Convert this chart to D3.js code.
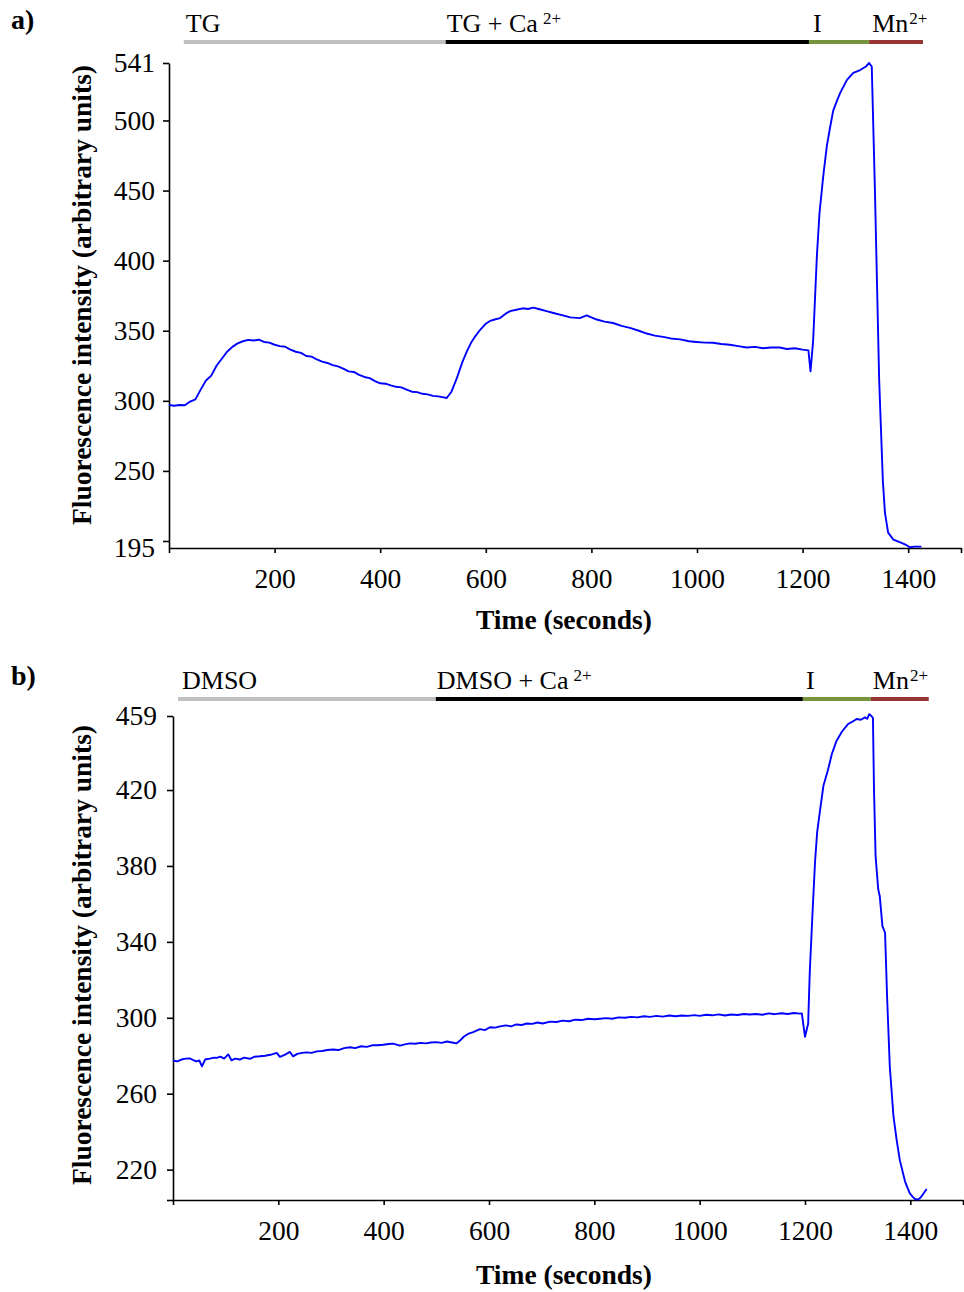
<!DOCTYPE html>
<html>
<head>
<meta charset="utf-8">
<script src="https://cdn.jsdelivr.net/npm/d3@7"></script>
<style>
body { margin:0; background:#fff; }
svg { display:block; font-family:"Liberation Serif","Times New Roman",serif; }
.tick text { font-size:27.5px; fill:#000; font-family:"Liberation Serif","Times New Roman",serif; }
.domain, .tick line { stroke:#000; stroke-width:1.6px; }
</style>
</head>
<body>
<div id="chart"></div>
<script>
// trace a) thapsigargin, [time s, fluorescence]
var traceA = [[0,297],[10,296.5],[20,297],[30,296.8],[40,299.5],[50,301],[60,308],[70,314.5],[80,318],[90,325],
  [100,330],[110,335],[120,338.5],[130,341],[140,342.5],[150,343.5],[160,343],[170,343.6],[180,342],[190,341.5],
  [200,340],[210,339],[220,338.6],[230,336.5],[240,335],[250,334.2],[260,332],[270,331.5],[280,329.5],[290,328],
  [300,327],[310,325.5],[320,324.6],[330,323],[340,321],[350,320.6],[360,318.5],[370,317],[380,316.2],[390,314],
  [400,312.5],[410,312.2],[420,311],[430,310],[440,309.6],[450,308],[460,306.5],[470,306.2],[480,305],[490,304.6],
  [500,303.5],[510,303.2],[520,302.5],[526,302],[535,306.5],[545,316],[555,327],[565,336],[573,342],[580,346],
  [589,350.5],[600,355],[608,357],[617,358],[627,359],[637,362],[646,364],[658,365],[670,366],[680,365.5],
  [690,366.5],[702,365.3],[715,364],[730,362.5],[746,361],[760,359.5],[778,359],[791,361],[800,359.5],[810,358],
  [825,356.5],[841,355.5],[857,353.5],[873,352],[890,350],[905,348],[920,346.5],[936,345.6],[950,344.5],[968,343.8],
  [985,342.5],[999,342],[1015,341.5],[1030,341.4],[1046,340.5],[1062,340],[1078,339],[1094,338],[1110,338.5],[1125,337.5],
  [1140,338],[1157,338],[1170,337],[1185,337.5],[1200,336.5],[1211,336],[1215,321],[1220,343],[1227,403],[1232,434],
  [1239,460],[1246,482],[1252,495],[1258,507],[1265,514],[1271,519.5],[1284,529],[1296,534],[1309,536],[1320,538.5],[1326,541],
  [1331,538.5],[1337,450],[1345,315],[1352,243],[1356,220],[1362,206],[1372,201],[1385,199],[1397,197],[1403,195.5],
  [1412,196],[1425,196]];

// trace b) DMSO control
var traceB = [[0,277.5],[8,277],[16,278],[24,278.5],[32,278.6],[40,277.5],[45,277],[50,277.5],[55,274.4],[61,278],
  [70,278.5],[78,279],[83,278.9],[90,279.5],[97,278.5],[105,280.7],[111,277.6],[118,278.5],[127,278],[135,279],
  [146,278.4],[155,279.5],[165,279.7],[175,280],[185,280.5],[197,281.5],[203,279.4],[212,280.5],[222,282],[228,279.7],
  [236,281],[245,281.5],[254,281.8],[263,281.5],[273,282.3],[283,282.5],[293,283],[304,283.3],[314,283],[325,284],
  [336,284.5],[346,284],[357,285],[368,284.7],[378,285.5],[389,285.5],[399,285.8],[410,286.2],[418,286.4],[431,285.3],
  [440,286],[450,286.5],[460,286.3],[470,286.8],[480,286.5],[490,287],[500,287.2],[510,286.8],[520,287.5],[530,287],
  [538,286.5],[545,288],[552,290],[560,291.5],[570,292.5],[583,294],[592,293.5],[602,295],[612,294.8],[621,295.5],
  [632,296],[642,295.5],[652,296.5],[662,296.2],[672,297],[682,296.8],[692,297.5],[702,297],[716,298],[728,297.8],
  [740,298.5],[752,298.2],[764,299],[776,298.8],[788,299.5],[800,299.2],[811,299.5],[822,299.8],[834,299.5],[846,300.2],
  [858,300],[870,300.5],[882,300.2],[894,300.8],[906,300.5],[918,301],[930,300.6],[942,301.2],[954,300.8],[966,301.2],
  [978,301],[990,301.4],[1000,301],[1012,301.6],[1024,301.3],[1036,301.8],[1048,301.2],[1060,301.7],[1072,301.5],[1084,302],
  [1095,301.7],[1107,302],[1119,301.6],[1131,302.3],[1143,301.9],[1155,302.4],[1167,302],[1179,302.5],[1190,302.2],[1194,302.3],
  [1200,290],[1206,297],[1209,323.7],[1214,353.6],[1219,381.8],[1223,397.6],[1228,408.2],[1235,422.2],[1244,431],[1251,439],
  [1260,446],[1270,450.7],[1282,454.8],[1290,456],[1298,457.4],[1306,457],[1314,458.3],[1318,457.5],[1322,460],[1326,459],
  [1329,458],[1331,420.5],[1334,385.3],[1339,367.7],[1342,364],[1347,348.3],[1352,344.8],[1356,310],[1361,274.4],[1368,248],
  [1374,235.7],[1380,225],[1390,213.7],[1399,207.5],[1405,205.5],[1409,204.5],[1414,204.2],[1418,204.9],[1423,206.6],[1431,209.8]];

// additions shown above each trace
var stimNamesA = ["TG", "TG + Ca", "I", "Mn"];
var stimNamesB = ["DMSO", "DMSO + Ca", "I", "Mn"];
var stimSup = ["", "2+", "", "2+"];
var stimStartA = [28, 524, 1212, 1326];
var stimEndA = [524, 1212, 1326, 1428];
var stimStartB = [9.5, 499, 1196, 1325];
var stimEndB = [499, 1196, 1325, 1435];

// axes
var xTickMarks = [0, 200, 400, 600, 800, 1000, 1200, 1400, 1500];
var xTickLabels = [200, 400, 600, 800, 1000, 1200, 1400];
var yTicksA = [195, 200, 250, 300, 350, 400, 450, 500, 541];
var yLabelsA = [195, 250, 300, 350, 400, 450, 500, 541];
var yTicksB = [204, 220, 260, 300, 340, 380, 420, 459];
var yLabelsB = [220, 260, 300, 340, 380, 420, 459];

var stimColors = ["#c0c0c0", "#000000", "#77933c", "#963634"];

var svg = d3.select("#chart")
    .append("svg")
    .attr("width", 964)
    .attr("height", 1292);

svg.append("rect").attr("width", 964).attr("height", 1292).attr("fill", "#fff");

function drawPanel(p) {
    var x = d3.scaleLinear().domain([0, 1500]).range([p.left, p.right]);
    var y = d3.scaleLinear().domain(p.yDomain).range([p.bottom, p.top]);

    // panel letter
    svg.append("text")
        .attr("x", 11).attr("y", p.letterY)
        .attr("font-size", 28).attr("font-weight", "bold")
        .text(p.letter);

    // stimulus bars + labels
    var g = svg.append("g");
    p.starts.forEach(function(s, i) {
        g.append("line")
            .attr("x1", x(s)).attr("x2", x(p.ends[i]))
            .attr("y1", p.barY).attr("y2", p.barY)
            .attr("stroke", stimColors[i])
            .attr("stroke-width", 4);
        var t = g.append("text")
            .attr("x", x(s) + p.labelDx[i])
            .attr("y", p.labelY)
            .attr("font-size", 26)
            .text(p.names[i]);
        if (stimSup[i]) {
            t.append("tspan")
                .attr("dx", p.supGap[i])
                .attr("dy", -8)
                .attr("font-size", 17)
                .text(stimSup[i]);
        }
    });

    // y axis
    var yAxis = svg.append("g")
        .attr("transform", "translate(" + p.left + ",0)")
        .call(d3.axisLeft(y)
            .tickValues(p.yTicks)
            .tickSize(6)
            .tickPadding(p.yPad)
            .tickSizeOuter(0)
            .tickFormat(function(d) { return p.yLabels.indexOf(d) >= 0 ? d : ""; }));
    yAxis.selectAll(".tick").filter(function(d) { return d === p.noTick; }).select("line").remove();

    // x axis
    svg.append("g")
        .attr("transform", "translate(0," + p.bottom + ")")
        .call(d3.axisBottom(x)
            .tickValues(xTickMarks)
            .tickSize(5)
            .tickPadding(15)
            .tickSizeOuter(0)
            .tickFormat(function(d) { return xTickLabels.indexOf(d) >= 0 ? d : ""; }));

    // trace
    var line = d3.line()
        .x(function(d) { return x(d[0]); })
        .y(function(d) { return y(d[1]); });
    svg.append("path")
        .datum(p.data)
        .attr("d", line)
        .attr("fill", "none")
        .attr("stroke", "#0000ff")
        .attr("stroke-width", 1.9)
        .attr("stroke-linejoin", "round");

    // axis titles
    svg.append("text")
        .attr("x", 564).attr("y", p.titleY)
        .attr("text-anchor", "middle")
        .attr("font-size", 27.5).attr("font-weight", "bold")
        .text("Time (seconds)");
    svg.append("text")
        .attr("transform", "translate(91," + p.yTitleY + ") rotate(-90)")
        .attr("text-anchor", "middle")
        .attr("font-size", 27.5).attr("font-weight", "bold")
        .text("Fluorescence intensity (arbitrary units)");
}

drawPanel({
    letter: "a)", letterY: 29,
    left: 169, right: 961, top: 63, bottom: 548,
    yDomain: [195, 541], yTicks: yTicksA, yLabels: yLabelsA, noTick: 195, yPad: 8,
    data: traceA,
    names: stimNamesA, starts: stimStartA, ends: stimEndA,
    barY: 42, labelY: 32, labelDx: [2, 1, 4, 3], supGap: [0, 5, 0, 1],
    titleY: 629, yTitleY: 295
});

drawPanel({
    letter: "b)", letterY: 685,
    left: 173, right: 963, top: 716, bottom: 1200,
    yDomain: [204, 459], yTicks: yTicksB, yLabels: yLabelsB, noTick: null, yPad: 10,
    data: traceB,
    names: stimNamesB, starts: stimStartB, ends: stimEndB,
    barY: 699, labelY: 689, labelDx: [4, 1, 3, 2], supGap: [0, 5, 0, 1],
    titleY: 1284, yTitleY: 955
});
</script>
</body>
</html>
